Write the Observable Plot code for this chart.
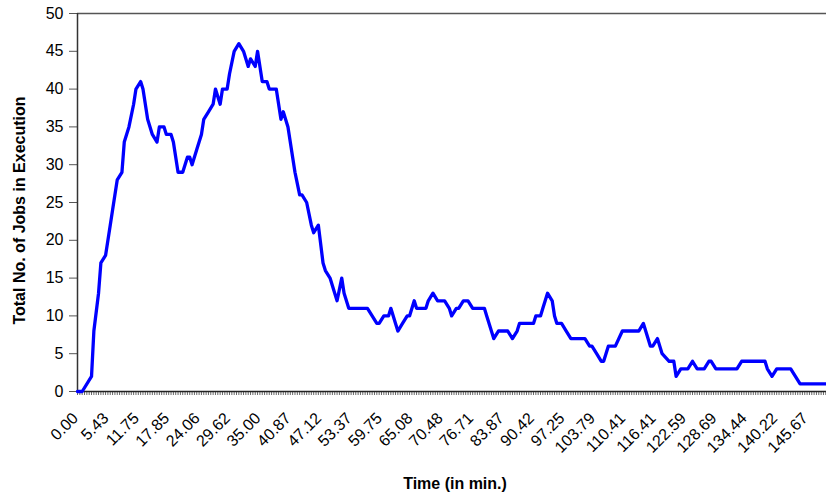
<!DOCTYPE html>
<html>
<head>
<meta charset="utf-8">
<script src="https://cdn.jsdelivr.net/npm/d3@7"></script>
<script src="https://cdn.jsdelivr.net/npm/@observablehq/plot@0.6"></script>
<style>
  body { margin: 0; background: #fff; }
  #chart svg { display: block; }
</style>
</head>
<body>
<div id="chart"></div>
<script>
// Category labels on the time axis (one every 13 samples)
const timeLabels = ["0.00", "5.43", "11.75", "17.85", "24.06", "29.62", "35.00", "40.87",
  "47.12", "53.37", "59.75", "65.08", "70.48", "76.71", "83.87", "90.42", "97.25",
  "103.79", "110.41", "116.41", "122.59", "128.69", "134.44", "140.22", "145.67"];
const samplesPerLabel = 13;
const lastSample = 320;

// Sample index where the job count changes course, and the job count there
const sampleIdx = [0, 2, 6, 7, 9, 10, 12, 14, 15, 17, 19, 20, 22, 24, 25, 27, 28, 30, 32, 34,
  35, 37, 38, 40, 41, 43, 45, 47, 48, 49, 51, 53, 54, 56, 58, 59, 61, 62, 64, 65,
  67, 69, 71, 73, 74, 76, 77, 79, 81, 82, 85, 87, 88, 90, 92, 93, 95, 96, 98, 100,
  101, 103, 105, 106, 108, 110, 111, 113, 114, 116, 124, 126, 128, 129, 131, 133, 134, 136, 137, 139,
  141, 142, 144, 145, 149, 150, 152, 154, 157, 159, 160, 162, 163, 165, 167, 169, 174, 175, 177, 178,
  180, 184, 186, 188, 189, 195, 196, 198, 199, 201, 203, 204, 205, 207, 209, 211, 217, 219, 220, 222,
  224, 225, 227, 230, 233, 240, 242, 245, 246, 248, 250, 253, 255, 256, 258, 261, 263, 265, 268, 270,
  271, 273, 282, 284, 294, 295, 297, 299, 305, 307, 309, 320];
const jobs = [0, 0, 2, 8, 13, 17, 18, 22, 24, 28, 29, 33, 35, 38, 40, 41, 40, 36, 34, 33,
  35, 35, 34, 34, 33, 29, 29, 31, 31, 30, 32, 34, 36, 37, 38, 40, 38, 40, 40, 42,
  45, 46, 45, 43, 44, 43, 45, 41, 41, 40, 40, 36, 37, 35, 31, 29, 26, 26, 25, 22,
  21, 22, 17, 16, 15, 13, 12, 15, 13, 11, 11, 10, 9, 9, 10, 10, 11, 9, 8, 9,
  10, 10, 12, 11, 11, 12, 13, 12, 12, 11, 10, 11, 11, 12, 12, 11, 11, 10, 8, 7,
  8, 8, 7, 8, 9, 9, 10, 10, 11, 13, 12, 10, 9, 9, 8, 7, 7, 6, 6, 5,
  4, 4, 6, 6, 8, 8, 9, 6, 6, 7, 5, 4, 4, 2, 3, 3, 4, 3, 3, 4,
  4, 3, 3, 4, 4, 3, 2, 3, 3, 2, 1, 1];

const points = sampleIdx.map((i, k) => ({i, jobs: jobs[k]}));
const labelIdx = timeLabels.map((_, k) => k * samplesPerLabel);
const allSamples = d3.range(0, lastSample + 1);
const font = "'Liberation Sans', Arial, Helvetica, sans-serif";

const chart = Plot.plot({
  width: 826,
  height: 497,
  marginLeft: 77,
  marginRight: 0,
  marginTop: 13,
  marginBottom: 106,
  style: {fontFamily: font, fontSize: "16px", color: "#000", background: "#fff"},
  x: {type: "linear", domain: [0, 320.3]},
  y: {domain: [0, 50]},
  marks: [
    Plot.axisY(d3.range(0, 51, 5), {tickSize: 8, tickPadding: 6, fontSize: 16, label: null, stroke: "#555"}),
    Plot.axisX(allSamples, {tickSize: 4, tickFormat: () => "", label: null, stroke: "#666"}),
    Plot.text(labelIdx, {
      x: d => d, y: 0, text: (d, k) => timeLabels[k],
      rotate: -45, textAnchor: "end", lineAnchor: "middle",
      dx: -2, dy: 24, fontSize: 16, fill: "#000"
    }),
    Plot.ruleY([50], {stroke: "#555", strokeWidth: 1.5}),
    Plot.ruleX([0], {stroke: "#333", strokeWidth: 1.5}),
    Plot.ruleY([0], {stroke: "#222", strokeWidth: 1.5}),
    Plot.line(points, {x: "i", y: "jobs", stroke: "#0000ff", strokeWidth: 3.3, strokeLinejoin: "round"}),
    Plot.text(["Time (in min.)"], {
      frameAnchor: "bottom", lineAnchor: "middle", dy: 92, dx: 3,
      fontWeight: "bold", fontSize: 16, fill: "#000"
    }),
    Plot.text(["Total No. of Jobs in Execution"], {
      frameAnchor: "left", textAnchor: "middle", lineAnchor: "middle", rotate: -90, dx: -58, dy: 8,
      fontWeight: "bold", fontSize: 16, fill: "#000"
    })
  ]
});
document.getElementById("chart").appendChild(chart);
</script>
</body>
</html>
